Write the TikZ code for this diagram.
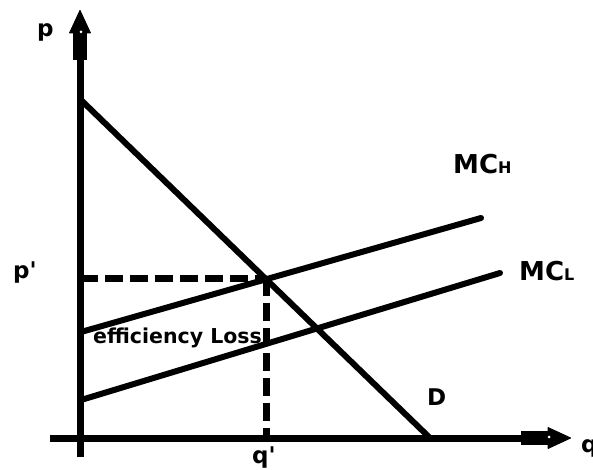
\documentclass[tikz,border=0pt]{standalone}
\usepackage{fontspec}
\setmainfont{DejaVu Sans}
\usetikzlibrary{arrows.meta}

\tikzset{
    achse/.style={line width=7pt, -{Rectangle[length=27pt,width=14pt,line width=1pt] Triangle[length=24pt,width=22pt,line width=1pt,round]}},
    kurve/.style={line width=6pt, line cap=round},
    hilfslinie/.style={line width=7pt, dash pattern=on 18pt off 7pt},
    beschr/.style={inner sep=0pt, anchor=base west, font=\bfseries\fontsize{23}{26}\selectfont},
    punkt/.style={circle, fill=white, inner sep=0pt, minimum size=3pt},
}

\begin{document}
\begin{tikzpicture}[x=1pt, y=-1pt]
    \useasboundingbox (0,0) rectangle (593,470);
    % Achsen:
    \coordinate (ufuss) at (80,457); % unteres Ende y-Achse
    \coordinate (pkopf) at (80,10);  % Spitze p-Achse
    \coordinate (lfuss) at (50,438); % linkes Ende x-Achse
    \coordinate (qkopf) at (571,438); % Spitze q-Achse
    \draw[achse] (ufuss) -- (pkopf);
    \draw[achse] (lfuss) -- (qkopf);
    \node[punkt] (ploch) at (81,32) {};
    \node[punkt] (qloch) at (549,437) {};
    % Nachfrage D:
    \coordinate (d0) at (81,100);
    \coordinate (d1) at (430,438);
    \draw[kurve] (d0) -- (d1);
    % Grenzkosten:
    \coordinate (h0) at (81,332);
    \coordinate (h1) at (481,218);
    \coordinate (l0) at (81,400);
    \coordinate (l1) at (500,273);
    \draw[kurve] (h0) -- (h1); % MC_H
    \draw[kurve] (l0) -- (l1); % MC_L
    % Gleichgewicht:
    \coordinate (gg) at (266,278);
    \coordinate (pstrich) at (80,278);
    \coordinate (qstrich) at (266,438);
    \draw[hilfslinie] (pstrich) -- (gg);
    \draw[hilfslinie] (gg) -- (qstrich);
    % Beschriftung:
    \node[beschr] (lp) at (37,37) {p};
    \node[beschr] (lpstrich) at (13,278) {p\textquotesingle};
    \node[beschr] (lqstrich) at (252,463) {q\textquotesingle};
    \node[beschr] (lq) at (581,452) {q};
    \node[beschr] (ld) at (427,405) {D};
    \node[beschr, font=\bfseries\fontsize{26}{28}\selectfont] (lmch) at (453,174) {MC{\fontsize{16}{18}\selectfont H}};
    \node[beschr, font=\bfseries\fontsize{26}{28}\selectfont] (lmcl) at (519,280) {MC{\fontsize{16}{18}\selectfont L}};
    \node[beschr, font=\bfseries\fontsize{20.5}{22}\selectfont] (lverlust) at (93,343) {efficiency Loss};
\end{tikzpicture}
\end{document}
